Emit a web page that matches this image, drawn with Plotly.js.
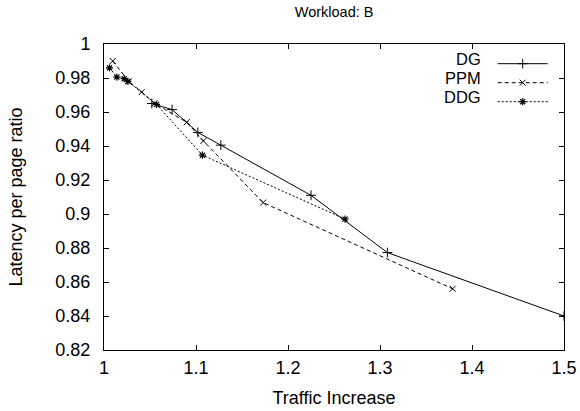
<!DOCTYPE html>
<html><head><meta charset="utf-8">
<script src="https://cdn.plot.ly/plotly-3.0.1.min.js"></script>
<style>html,body{margin:0;padding:0;background:#fff}#c{width:580px;height:411px}</style>
</head><body><div id="c"></div>
<script>
var seriesNames = ["DG", "PPM", "DDG"];
var dgX = [1.052, 1.074, 1.102, 1.127, 1.225, 1.308, 1.5];
var dgY = [0.965, 0.9614, 0.948, 0.9405, 0.911, 0.8773, 0.840];
var ppmX = [1.0095, 1.027, 1.041, 1.055, 1.090, 1.108, 1.173, 1.379];
var ppmY = [0.990, 0.978, 0.9717, 0.965, 0.954, 0.943, 0.9067, 0.856];
var ddgX = [1.006, 1.014, 1.022, 1.026, 1.057, 1.107, 1.262];
var ddgY = [0.986, 0.9805, 0.9796, 0.978, 0.9645, 0.9346, 0.897];
var xTicks = [1, 1.1, 1.2, 1.3, 1.4, 1.5];
var xTickText = ["1", "1.1", "1.2", "1.3", "1.4", "1.5"];
var yTicks = [0.82, 0.84, 0.86, 0.88, 0.9, 0.92, 0.94, 0.96, 0.98, 1];
var yTickText = ["0.82", "0.84", "0.86", "0.88", "0.9", "0.92", "0.94", "0.96", "0.98", "1"];

var FONT = "Liberation Sans, Arial, Helvetica, sans-serif";
function tr(x, y, dash, sym, sz, lw) {
  return {x: x, y: y, mode: "lines+markers", name: "", showlegend: true,
    line: {color: "#000", width: 1, dash: dash},
    marker: {symbol: sym, size: sz, color: "#000", line: {color: "#000", width: lw}}};
}
var data = [
  tr(dgX, dgY, "solid", "cross-thin", 7, 1),
  tr(ppmX, ppmY, "4px,3px", "x-thin", 6, 1),
  tr(ddgX, ddgY, "2px,2px", "asterisk-open", 6, 1.2)
];
var ax = {showline: true, linecolor: "#000", linewidth: 1, mirror: "ticks", ticks: "inside",
  ticklen: 5, tickcolor: "#000", showgrid: false, zeroline: false,
  tickfont: {family: FONT, size: 18, color: "#000"}};
var layout = {
  width: 580, height: 411,
  margin: {l: 103.5, r: 15.5, t: 43.5, b: 60.5},
  paper_bgcolor: "#fff", plot_bgcolor: "#fff",
  font: {family: FONT, size: 18, color: "#000"},
  title: {text: "Workload: B", x: 0.576, xanchor: "center", y: 0.97, yanchor: "middle",
    font: {family: FONT, size: 14.5, color: "#000"}},
  xaxis: Object.assign({}, ax, {range: [1, 1.5], tickvals: xTicks, ticktext: xTickText,
    ticklabelstandoff: 1,
    title: {text: "Traffic Increase", standoff: 14, font: {family: FONT, size: 18, color: "#000"}}}),
  yaxis: Object.assign({}, ax, {range: [0.82, 1], tickvals: yTicks, ticktext: yTickText,
    ticklabelstandoff: 9,
    title: {text: "Latency per page ratio", standoff: 28, font: {family: FONT, size: 18, color: "#000"}}}),
  legend: {x: 0.845, xanchor: "left", y: 0.983, yanchor: "top", bgcolor: "rgba(0,0,0,0)",
    borderwidth: 0, itemwidth: 50, tracegroupgap: 0, font: {family: FONT, size: 10, color: "#000"}},
  annotations: seriesNames.map(function (n, i) {
    return {text: n, xref: "paper", yref: "paper", x: 0.822, xanchor: "right",
      y: 0.9511 - i * 0.0619, yanchor: "middle", showarrow: false,
      height: 16, borderpad: 0, valign: "middle",
      font: {family: FONT, size: 16.5, color: "#000"}};
  })
};
Plotly.newPlot("c", data, layout, {displayModeBar: false, staticPlot: true});
</script></body></html>
